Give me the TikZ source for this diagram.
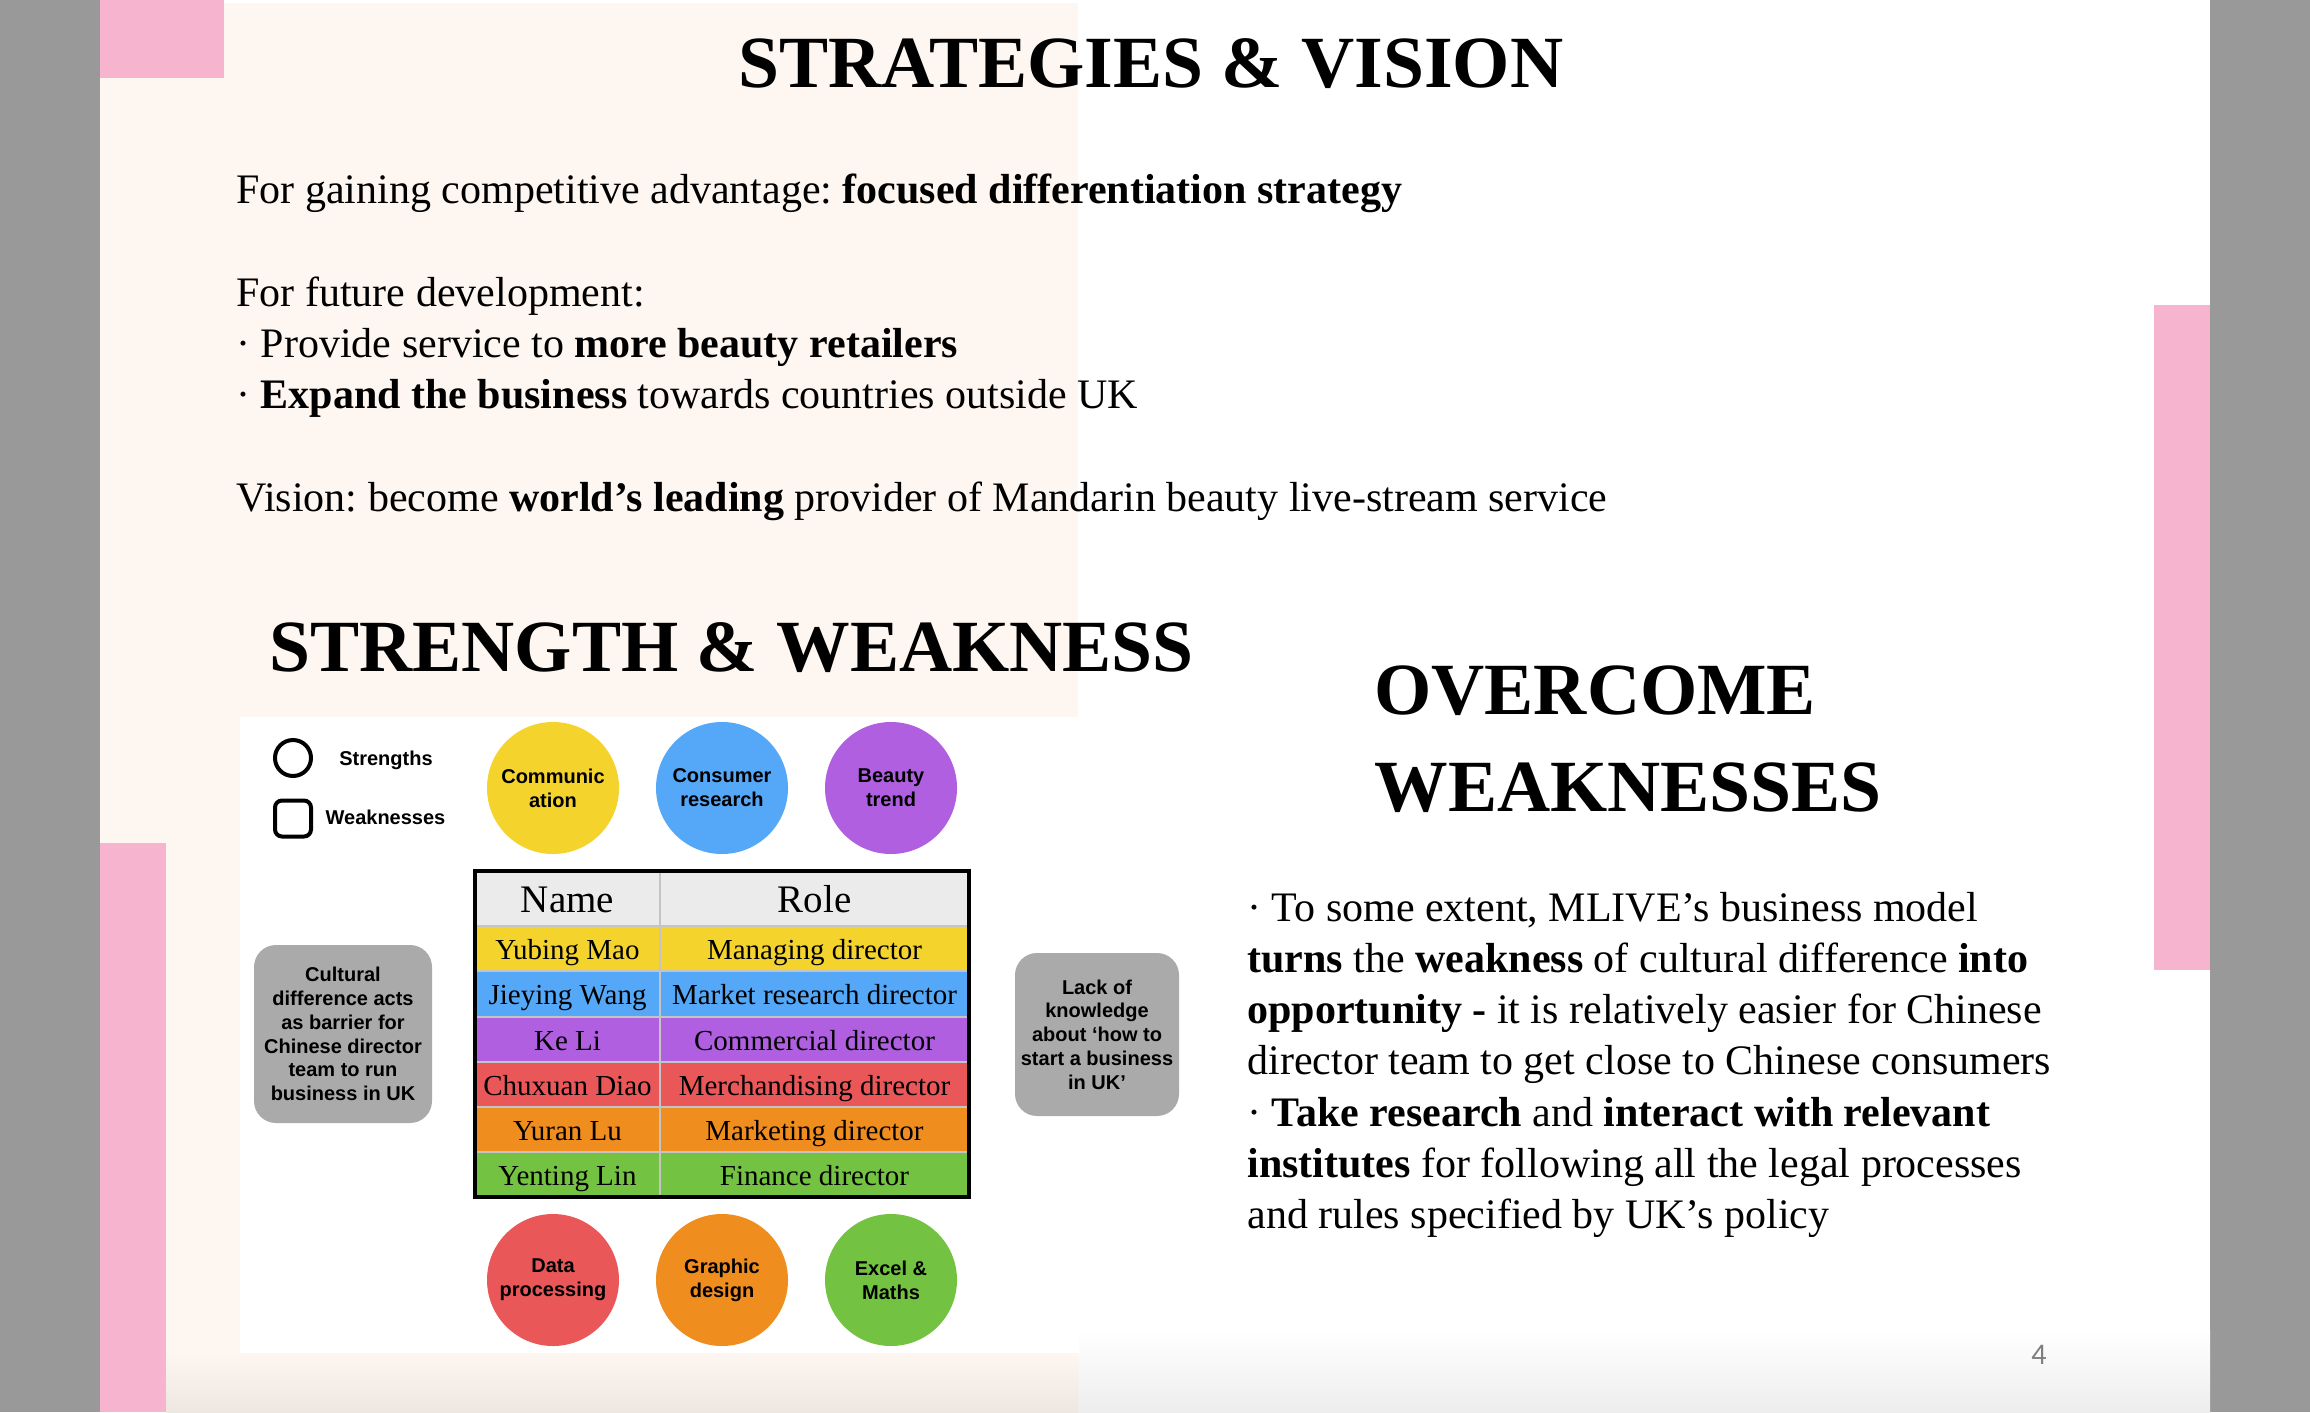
\documentclass[tikz,border=0pt]{standalone}
\usepackage{fontspec}
\setmainfont{Liberation Serif}
\setsansfont{Liberation Sans}
\newfontfamily\pgnumfont{Carlito}
\frenchspacing
\definecolor{bandgray}{HTML}{999999}
\definecolor{cream}{HTML}{FEF6F0}
\definecolor{creamdark}{HTML}{EEE6E0}
\definecolor{pinkband}{HTML}{F6B4CF}
\definecolor{cyellow}{HTML}{F4D42C}
\definecolor{cblue}{HTML}{55A7F7}
\definecolor{cpurple}{HTML}{AF5FE0}
\definecolor{cred}{HTML}{E95759}
\definecolor{corange}{HTML}{F08D1F}
\definecolor{cgreen}{HTML}{74C241}
\definecolor{boxgray}{HTML}{AAAAAA}
\definecolor{gridgray}{HTML}{C4C4C4}
\definecolor{headgray}{HTML}{EBEBEB}
\definecolor{numgray}{HTML}{7F7F7F}
\tikzset{
  titletext/.style={inner sep=0, font=\fontsize{36.8}{44}\selectfont\bfseries},
  bodytext/.style={inner sep=0, anchor=base west, font=\fontsize{21}{25.75}\selectfont},
  skill/.style={circle, minimum size=66pt, inner sep=0, align=center,
    font=\sffamily\bfseries\fontsize{10}{12}\selectfont},
  weakbox/.style={rounded corners=11pt, fill=boxgray, inner sep=0, align=center,
    font=\sffamily\bfseries\fontsize{10}{11.9}\selectfont},
  legendtext/.style={inner sep=0, anchor=base, font=\sffamily\bfseries\fontsize{10}{12}\selectfont},
  headtext/.style={inner sep=0, anchor=base, font=\fontsize{19.5}{22}\selectfont},
  celltext/.style={inner sep=0, anchor=base, font=\fontsize{14.5}{17}\selectfont},
}
\begin{document}
\begin{tikzpicture}[x=0.5pt, y=-0.5pt]
\useasboundingbox (0,0) rectangle (2310,1412);
% background
\fill[bandgray] (0,0) rectangle (2310,1412);
\fill[white] (100,0) rectangle (2210,1412);
\fill[cream] (100,0) rectangle (1078,1412);
\fill[white] (224,0) rectangle (1080,3);
\shade[top color=white, bottom color=black!7] (1078,1330) rectangle (2210,1412);
\shade[top color=cream, bottom color=creamdark] (166,1353) rectangle (1078,1412);
\fill[pinkband] (100,0) rectangle (224,78);
\fill[pinkband] (100,843) rectangle (166,1412);
\fill[pinkband] (2154,305) rectangle (2210,970);
\fill[white] (240,717) rectangle (1079,1353);

% titles
\node[titletext, anchor=base] (title) at (1151,88) {STRATEGIES \& VISION};
\node[titletext, anchor=base west] (swtitle) at (269,671) {STRENGTH \& WEAKNESS};
\node[titletext, anchor=base west] (ow1) at (1374,714) {OVERCOME};
\node[titletext, anchor=base west] (ow2) at (1374,811) {WEAKNESSES};

% top text
\node[bodytext] (l1) at (236,203.6) {For gaining competitive advantage: \textbf{focused differentiation strategy}};
\node[bodytext] (l2) at (236,306) {For future development:};
\node[bodytext] (l3) at (236,357) {· Provide service to \textbf{more beauty retailers}};
\node[bodytext] (l4) at (236,408) {· \textbf{Expand the business} towards countries outside UK};
\node[bodytext] (l5) at (236,511) {Vision: become \textbf{world’s leading} provider of Mandarin beauty live-stream service};

% right paragraph
\node[bodytext] (p1) at (1247,921) {· To some extent, MLIVE’s business model};
\node[bodytext] (p2) at (1247,972.3) {\textbf{turns} the \textbf{weakness} of cultural difference \textbf{into}};
\node[bodytext] (p3) at (1247,1023.6) {\textbf{opportunity -} it is relatively easier for Chinese};
\node[bodytext] (p4) at (1247,1074.9) {director team to get close to Chinese consumers};
\node[bodytext] (p5) at (1247,1126.2) {· \textbf{Take research} and \textbf{interact with relevant}};
\node[bodytext] (p6) at (1247,1177.5) {\textbf{institutes} for following all the legal processes};
\node[bodytext] (p7) at (1247,1228.8) {and rules specified by UK’s policy};

\node[inner sep=0, anchor=base, text=numgray, font=\pgnumfont\fontsize{15}{18}\selectfont] (pnum) at (2039,1364) {4};

% legend
\node[draw, circle, line width=2pt, minimum size=18pt, inner sep=0] (lgc) at (293,758) {};
\node[draw, rectangle, rounded corners=3.5pt, line width=2pt, minimum size=18pt, inner sep=0] (lgs) at (293,818.5) {};
\node[legendtext] (lgct) at (386,765) {Strengths};
\node[legendtext] (lgst) at (385.5,824) {Weaknesses};

% skill circles
\node[skill, fill=cyellow] (s1) at (553,788) {Communic\\ation};
\node[skill, fill=cblue] (s2) at (722,788) {Consumer\\research};
\node[skill, fill=cpurple] (s3) at (891,788) {Beauty\\trend};
\node[skill, fill=cred] (s4) at (553,1280) {Data\\processing};
\node[skill, fill=corange] (s5) at (722,1280) {Graphic\\design};
\node[skill, fill=cgreen] (s6) at (891,1280) {Excel \&\\Maths};

% weakness boxes
\node[weakbox, minimum width=89pt, minimum height=89pt] (w1) at (343,1034)
  {Cultural\\difference acts\\as barrier for\\Chinese director\\team to run\\business in UK};
\node[weakbox, minimum width=82pt, minimum height=81.5pt] (w2) at (1097,1034.5)
  {Lack of\\knowledge\\about ‘how to\\start a business\\in UK’};

% table
\fill[headgray] (475,871) rectangle (969,926);
\fill[cyellow] (475,926) rectangle (969,971);
\fill[cblue] (475,971) rectangle (969,1017);
\fill[cpurple] (475,1017) rectangle (969,1062);
\fill[cred] (475,1062) rectangle (969,1107);
\fill[corange] (475,1107) rectangle (969,1152);
\fill[cgreen] (475,1152) rectangle (969,1197);
\draw[gridgray, line width=1pt] (660,871) -- (660,1197);
\foreach \yy in {926,971,1017,1062,1107,1152} {
  \draw[gridgray, line width=1pt] (475,\yy) -- (969,\yy);
}
\draw[black, line width=2.25pt] (475,871) rectangle (969,1197);

\node[headtext] (hn) at (567.5,912) {Name};
\node[headtext] (hr) at (814.5,912) {Role};
\node[celltext] (n1) at (567.5,959) {Yubing Mao};
\node[celltext] (r1) at (814.5,959) {Managing director};
\node[celltext] (n2) at (567.5,1004.5) {Jieying Wang};
\node[celltext] (r2) at (814.5,1004.5) {Market research director};
\node[celltext] (n3) at (567.5,1050) {Ke Li};
\node[celltext] (r3) at (814.5,1050) {Commercial director};
\node[celltext] (n4) at (567.5,1095) {Chuxuan Diao};
\node[celltext] (r4) at (814.5,1095) {Merchandising director};
\node[celltext] (n5) at (567.5,1140) {Yuran Lu};
\node[celltext] (r5) at (814.5,1140) {Marketing director};
\node[celltext] (n6) at (567.5,1185) {Yenting Lin};
\node[celltext] (r6) at (814.5,1185) {Finance director};
\end{tikzpicture}
\end{document}
